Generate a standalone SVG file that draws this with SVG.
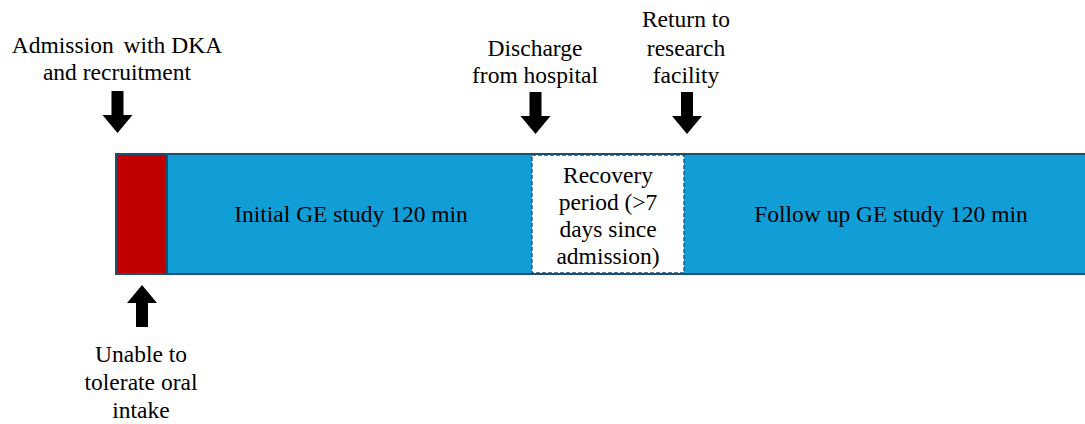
<svg xmlns="http://www.w3.org/2000/svg" width="1085" height="424" viewBox="0 0 1085 424">
<style>
text{font-family:"Liberation Serif","DejaVu Serif",serif;font-size:23.5px;fill:#000;text-anchor:middle}
.bar{fill:#119ed6;stroke:#1d4f73;stroke-width:2}
.arrow{fill:#000}
</style>
<defs>
<path id="down" d="M-6,0 H6 V24 H15 L0,42 L-15,24 H-6 Z"/>
</defs>
<rect width="1085" height="424" fill="#fff"/>
<g id="bar">
<rect class="bar" x="116" y="154" width="980" height="120"/>
<text x="351" y="222">Initial GE study 120 min</text>
<text x="891" y="222">Follow up GE study 120 min</text>
</g>
<g id="oral-intake-phase">
<rect x="116" y="154" width="51" height="120" fill="#c00000" stroke="#1d4f73" stroke-width="2"/>
</g>
<g id="recovery">
<rect x="532" y="155" width="152" height="118" fill="#fff" stroke="#1d4f73" stroke-width="1.3" stroke-dasharray="4,2"/>
<text x="608" y="183">Recovery</text>
<text x="608" y="210">period (&gt;7</text>
<text x="608" y="237">days since</text>
<text x="608" y="264">admission)</text>
</g>
<g id="admission">
<text x="117" y="53">Admission <tspan dx="4">with DKA</tspan></text>
<text x="117" y="80">and recruitment</text>
</g>
<g id="discharge">
<text x="535" y="56">Discharge</text>
<text x="535" y="83">from hospital</text>
</g>
<g id="return">
<text x="686" y="27">Return to</text>
<text x="686" y="56">research</text>
<text x="686" y="83">facility</text>
</g>
<g id="unable">
<text x="141" y="362">Unable to</text>
<text x="141" y="390">tolerate oral</text>
<text x="141" y="418">intake</text>
</g>
<g id="connectors">
<use href="#down" class="arrow" x="117.5" y="91"/>
<use href="#down" class="arrow" x="535.5" y="92"/>
<use href="#down" class="arrow" x="687" y="92"/>
<use href="#down" class="arrow" transform="translate(142,327) scale(1,-1)"/>
</g>
</svg>
